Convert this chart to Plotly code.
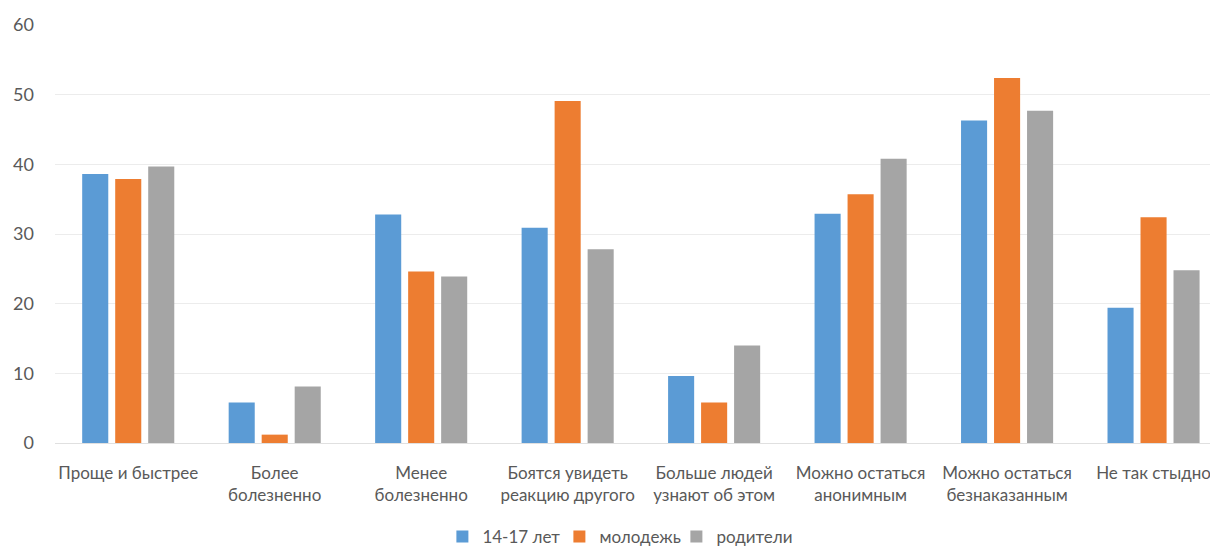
import plotly.graph_objects as go

categories = [
    "Проще и быстрее",
    "Более<br>болезненно",
    "Менее<br>болезненно",
    "Боятся увидеть<br>реакцию другого",
    "Больше людей<br>узнают об этом",
    "Можно остаться<br>анонимным",
    "Можно остаться<br>безнаказанным",
    "Не так стыдно",
]
series_names = ["14-17 лет", "молодежь", "родители"]
teen = [38.6, 5.8, 32.8, 30.9, 9.6, 32.9, 46.3, 19.4]
youth = [37.9, 1.2, 24.6, 49.1, 5.8, 35.7, 52.4, 32.4]
parents = [39.7, 8.1, 23.9, 27.8, 14.0, 40.8, 47.7, 24.8]
colors = ["#5B9BD5", "#ED7D31", "#A5A5A5"]
y_ticks = [0, 10, 20, 30, 40, 50, 60]

FONT = "Lato"
TXT = "#595959"

fig = go.Figure()
for name, vals, col in zip(series_names, [teen, youth, parents], colors):
    fig.add_trace(go.Bar(x=list(range(len(categories))), y=vals, name=name,
                         marker=dict(color=col, line=dict(width=0))))

fig.update_layout(
    width=1210, height=538,
    margin=dict(l=47, r=0, t=17, b=103, autoexpand=False),
    paper_bgcolor="white", plot_bgcolor="white",
    barmode="group", bargap=0.324, bargroupgap=0.21,
    font=dict(family=FONT, color=TXT, size=17),
    showlegend=True,
    legend=dict(orientation="h", x=0.484, xanchor="center",
                yref="container", y=0.017, yanchor="middle",
                entrywidth=72, entrywidthmode="pixels",
                font=dict(family=FONT, size=17, color=TXT),
                traceorder="normal"),
    xaxis=dict(range=[-0.5, 7.44], tickmode="array",
               tickvals=list(range(len(categories))), ticktext=categories,
               showgrid=False, zeroline=False, showline=False, ticks="",
               ticklabelstandoff=18, automargin=False,
               tickfont=dict(family=FONT, size=17, color=TXT)),
    yaxis=dict(range=[0, 60], tickmode="array", tickvals=y_ticks,
               showgrid=True, gridcolor="#ECECEC", gridwidth=1.3,
               zeroline=True, zerolinecolor="#E0E0E0", zerolinewidth=1.3,
               showline=False, ticks="", ticklabelstandoff=20, automargin=False,
               tickfont=dict(family=FONT, size=18, color=TXT)),
)
fig.write_html("out.html")
